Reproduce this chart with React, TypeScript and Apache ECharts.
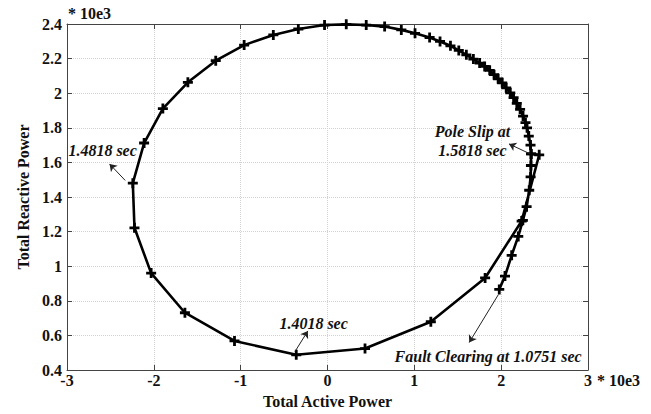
import React, { useEffect, useRef } from "react";
import * as echarts from "echarts";

// Trajectory (active power P, reactive power Q), in units of 10e3
const activeP = [
  1.978, 2.044, 2.121, 2.197, 2.25, 2.293, 2.323, 2.339, 2.343, 2.345,
  2.338, 2.318, 2.298, 2.28, 2.252, 2.218, 2.18, 2.143, 2.105, 2.058,
  2.012, 1.965, 1.918, 1.868, 1.81, 1.752, 1.68, 1.599, 1.512, 1.416,
  1.296, 1.176, 1.008, 0.85, 0.658, 0.446, 0.216, -0.034, -0.336, -0.624,
  -0.96, -1.287, -1.608, -1.896, -2.112, -2.242, -2.223, -2.031, -1.642, -1.071,
  -0.36, 0.432, 1.19, 1.815, 2.236, 2.438, 2.345,
];
const reactiveQ = [
  0.866, 0.943, 1.063, 1.172, 1.265, 1.344, 1.439, 1.516, 1.582, 1.649,
  1.7, 1.752, 1.8, 1.83, 1.868, 1.907, 1.941, 1.974, 2.002, 2.031,
  2.06, 2.083, 2.107, 2.132, 2.155, 2.174, 2.197, 2.222, 2.247, 2.274,
  2.299, 2.322, 2.346, 2.366, 2.385, 2.394, 2.398, 2.394, 2.371, 2.337,
  2.278, 2.188, 2.063, 1.911, 1.712, 1.48, 1.222, 0.96, 0.731, 0.568,
  0.488, 0.524, 0.679, 0.932, 1.261, 1.644, 1.649,
];

// Annotations
const annoText = ["1.4818 sec", "1.4018 sec", "Pole Slip at\n1.5818 sec", "Fault Clearing at 1.0751 sec"];
const annoX = [-2.59, -0.16, 1.67, 1.85];
const annoY = [1.668, 0.668, 1.724, 0.476];
const arrowFromX = [-2.33, -0.374, 2.33, 1.968];
const arrowFromY = [1.496, 0.507, 1.65, 0.836];
const arrowToX = [-2.51, -0.226, 2.09, 1.632];
const arrowToY = [1.591, 0.626, 1.707, 0.559];

const xMin = -3, xMax = 3, xStep = 1;
const yMin = 0.4, yMax = 2.4, yStep = 0.2;

const FONT = "Liberation Serif";
const PLUS = "path://M0,3.6H10V6.4H0Z M3.6,0H6.4V10H3.6Z";

export default function App() {
  const ref = useRef<HTMLDivElement>(null);
  useEffect(() => {
    if (!ref.current) return;
    const chart = echarts.init(ref.current, null, { renderer: "svg" });
    const traj = activeP.map((p, i) => [p, reactiveQ[i]]);
    const arrows = arrowFromX.map((x, i) => ({
      coords: [
        [x, arrowFromY[i]],
        [arrowToX[i], arrowToY[i]],
      ],
    }));
    const fmt = (v: number) => String(Math.round(v * 10) / 10);
    const axisLine = { show: true, onZero: false, lineStyle: { color: "#444", width: 1 } };
    const tick = { show: true, inside: true, length: 5, lineStyle: { color: "#444" } };
    const label = { fontFamily: FONT, fontWeight: "bold", fontSize: 16, color: "#111" };
    const split = { show: true, lineStyle: { color: "#d2d2d2", type: "dotted", width: 1 } };
    chart.setOption({
      animation: false,
      backgroundColor: "#fff",
      grid: { left: 67, right: 63, top: 24, bottom: 41, containLabel: false },
      xAxis: [
        {
          type: "value",
          min: xMin,
          max: xMax,
          interval: xStep,
          name: "Total Active Power",
          nameLocation: "middle",
          nameGap: 23,
          nameTextStyle: label,
          axisLine,
          axisTick: tick,
          axisLabel: { ...label, margin: 2, formatter: fmt },
          splitLine: split,
        },
        {
          type: "value",
          position: "top",
          min: xMin,
          max: xMax,
          interval: xStep,
          axisLine,
          axisTick: tick,
          axisLabel: { show: false },
          splitLine: { show: false },
        },
      ],
      yAxis: [
        {
          type: "value",
          min: yMin,
          max: yMax,
          interval: yStep,
          name: "Total Reactive Power",
          nameLocation: "middle",
          nameGap: 36,
          nameTextStyle: label,
          axisLine,
          axisTick: tick,
          axisLabel: { ...label, margin: 5, formatter: fmt },
          splitLine: split,
        },
        {
          type: "value",
          position: "right",
          min: yMin,
          max: yMax,
          interval: yStep,
          axisLine,
          axisTick: tick,
          axisLabel: { show: false },
          splitLine: { show: false },
        },
      ],
      series: [
        {
          type: "line",
          data: traj,
          xAxisIndex: 0,
          yAxisIndex: 0,
          symbol: PLUS,
          symbolSize: 10,
          showAllSymbol: true,
          lineStyle: { color: "#000", width: 2.6 },
          itemStyle: { color: "#000" },
          z: 3,
        },
        {
          type: "lines",
          coordinateSystem: "cartesian2d",
          xAxisIndex: 0,
          yAxisIndex: 0,
          data: arrows,
          symbol: ["none", "arrow"],
          symbolSize: 7,
          lineStyle: { color: "#222", width: 1, opacity: 1 },
          z: 4,
        },
      ],
      graphic: [
        {
          type: "text",
          left: 68,
          top: 5,
          style: { text: "* 10e3", font: `bold 16px ${FONT}`, fill: "#111" },
        },
        {
          type: "text",
          left: 597,
          top: 372,
          style: { text: "* 10e3", font: `bold 16px ${FONT}`, fill: "#111" },
        },
      ],
    });
    const texts = annoText.map((t, i) => {
      const pt = chart.convertToPixel({ xAxisIndex: 0, yAxisIndex: 0 }, [annoX[i], annoY[i]]) as number[];
      return {
        type: "text",
        x: pt[0],
        y: pt[1],
        z: 10,
        style: {
          text: t,
          fontFamily: FONT,
          fontWeight: "bold",
          fontStyle: "italic",
          fontSize: 16,
          lineHeight: 19,
          fill: "#111",
          align: "center",
          verticalAlign: "middle",
        },
      };
    });
    chart.setOption({
      graphic: [
        {
          type: "text",
          left: 68,
          top: 5,
          style: { text: "* 10e3", font: `bold 16px ${FONT}`, fill: "#111" },
        },
        {
          type: "text",
          left: 597,
          top: 372,
          style: { text: "* 10e3", font: `bold 16px ${FONT}`, fill: "#111" },
        },
        ...texts,
      ],
    });
    return () => chart.dispose();
  }, []);
  return <div ref={ref} style={{ width: 651, height: 414, position: "absolute", left: 0, top: 0 }} />;
}
